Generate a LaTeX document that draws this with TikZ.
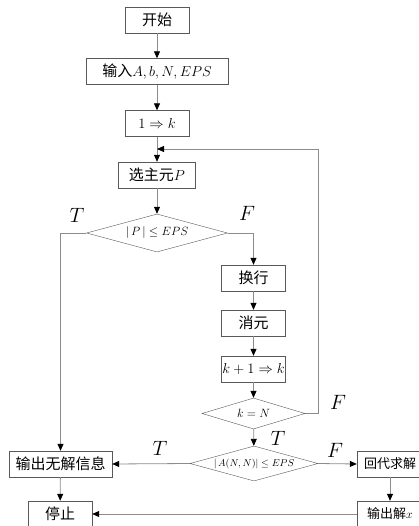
\documentclass[tikz,border=0pt]{standalone}
\usepackage{fontspec}
\setmainfont{Noto Sans CJK SC}
\usetikzlibrary{shapes.geometric,arrows.meta}

\begin{document}
\begin{tikzpicture}[x=1pt,y=-1pt,
    rect/.style={draw=black!65, rectangle, minimum width=64pt, minimum height=26pt, inner sep=0pt, font=\fontsize{15}{17}\selectfont},
    dia/.style={draw=black!65, diamond, aspect=3.6, inner sep=0pt, font=\fontsize{13}{15}\selectfont},
    lbl/.style={font=\fontsize{20}{22}\selectfont},
    line/.style={draw=black!45, line width=0.8pt, -{Triangle[length=7pt,width=6pt,color=black]}}]
    \useasboundingbox (0,0) rectangle (419,526);
    \clip (0,0) rectangle (419,526);

    % Main column
    \node[rect] (start) at (157,20) {开始};
    \node[rect, minimum width=142pt] (input) at (157,71.5) {输入$A,b,N,EPS$};
    \node[rect] (init) at (157,123.5) {$1\Rightarrow k$};
    \coordinate (join) at (157,149);
    \node[rect, minimum width=77pt] (pivot) at (157,175) {选主元$P$};
    \node[dia, minimum width=141pt, minimum height=38pt] (check-p) at (157,233) {$|\,P\,|\le EPS$};

    % Elimination column
    \node[rect] (swap) at (253.5,278) {换行};
    \node[rect] (elim) at (253.5,323) {消元};
    \node[rect] (incr) at (253.5,369) {$k+1\Rightarrow k$};
    \node[dia, minimum width=103pt, minimum height=31pt] (check-k) at (253.5,413.5) {$k=N$};
    \coordinate (corner) at (318,149);
    \node[dia, minimum width=128pt, minimum height=35pt, font=\fontsize{10}{12}\selectfont] (check-a) at (254,463.5) {$|\,A(N,N)|\le EPS$};

    % Outputs
    \node[rect, minimum width=103pt] (nosol) at (60.5,464) {输出无解信息};
    \node[rect] (stop) at (60,514) {停止};
    \node[rect, minimum width=66pt, font=\fontsize{13}{15}\selectfont] (back) at (390,464) {回代求解};
    \node[rect, minimum width=66pt, font=\fontsize{13}{15}\selectfont] (output) at (390,514) {输出解$x$};

    % Labels
    \node[lbl] (t-1) at (77,215) {$T$};
    \node[lbl] (f-1) at (247,213) {$F$};
    \node[lbl] (f-2) at (338,402) {$F$};
    \node[lbl] (t-2) at (278,438) {$T$};
    \node[lbl] (t-3) at (160,448) {$T$};
    \node[lbl] (f-3) at (335,450) {$F$};

    % Connectors
    \draw[line] (start) -- (input);
    \draw[line] (input) -- (init);
    \draw[line] (init) -- (pivot);
    \draw[line] (check-k.east) -| (corner) -- (join);
    \draw[line] (pivot) -- (check-p);
    \draw[line] (check-p.west) -| (nosol.north);
    \draw[line] (check-p.east) -| (swap.north);
    \draw[line] (swap) -- (elim);
    \draw[line] (elim) -- (incr);
    \draw[line] (incr) -- (check-k);
    \draw[line] (check-k) -- (check-a);
    \draw[line] (check-a.west) -- (nosol.east);
    \draw[line] (check-a.east) -- (back.west);
    \draw[line] (nosol) -- (stop);
    \draw[line] (back) -- (output);
    \draw[line] (output.west) -- (stop.east);
\end{tikzpicture}
\end{document}
